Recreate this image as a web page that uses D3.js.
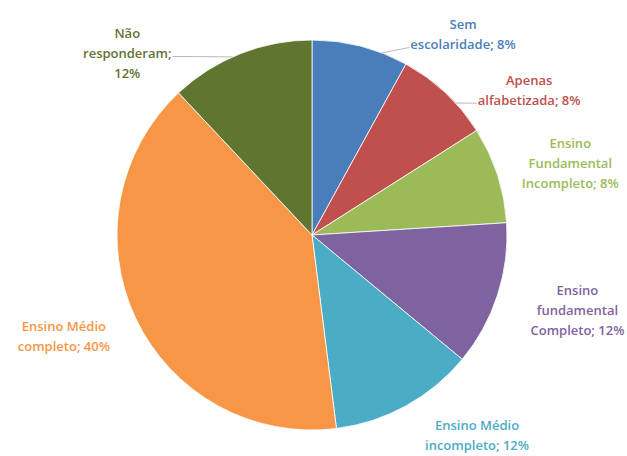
<!DOCTYPE html>
<html>
<head>
<meta charset="utf-8">
<script src="https://cdn.jsdelivr.net/npm/d3@7"></script>
<style>
  html, body { margin: 0; padding: 0; background: #fff; }
  svg { display: block; }
  .label { font-family: "Open Sans", "DejaVu Sans", sans-serif; font-size: 13px; font-weight: 600; }
</style>
</head>
<body>
<div id="chart"></div>
<script>
// Escolaridade - share of respondents (%)
const categories = [
    "Sem escolaridade",
    "Apenas alfabetizada",
    "Ensino Fundamental incompleto",
    "Ensino fundamental Completo",
    "Ensino Médio incompleto",
    "Ensino Médio completo",
    "Não responderam"
];
const values = [8, 8, 8, 12, 12, 40, 12];
// label text as printed on the chart, one entry per line
const labelLines = [
    ["Sem", "escolaridade; 8%"],
    ["Apenas", "alfabetizada; 8%"],
    ["Ensino", "Fundamental", "Incompleto; 8%"],
    ["Ensino", "fundamental", "Completo; 12%"],
    ["Ensino Médio", "incompleto; 12%"],
    ["Ensino Médio", "completo; 40%"],
    ["Não", "responderam;", "12%"]
];
const colors = ["#4a7ebb", "#c0504d", "#9bbb59", "#7f63a1", "#4bacc6", "#f79646", "#5f7530"];

// label placement (angle in degrees from 12 o'clock, distance from centre)
const labelAngle = [37, 56.3, 74.5, 105.9, 140.6, 247.8, 314.5];
const labelRadius = [251, 261, 268, 276, 260, 268, 259];
const leaderAngle = { 0: 21, 1: 47.4, 6: 336 };

function drawPie() {
    const width = 627, height = 456;
    const cx = 312, cy = 235;
    const radius = 195;
    const lineH = 20;

    const svg = d3.select("#chart")
        .append("svg")
        .attr("width", width)
        .attr("height", height);

    const g = svg.append("g")
        .attr("transform", `translate(${cx},${cy})`);

    const data = categories.map((c, i) => ({ name: c, value: values[i], i: i }));

    const pie = d3.pie()
        .value(d => d.value)
        .sort(null);

    const arc = d3.arc()
        .innerRadius(0)
        .outerRadius(radius);

    const arcs = pie(data);

    g.selectAll("path.slice")
        .data(arcs)
        .join("path")
        .attr("class", "slice")
        .attr("d", arc)
        .attr("fill", d => colors[d.data.i])
        .attr("stroke", "#fff")
        .attr("stroke-width", 0.8);

    // labels
    const labels = g.selectAll("text.label")
        .data(arcs)
        .join("text")
        .attr("class", "label")
        .attr("text-anchor", "middle")
        .attr("fill", d => colors[d.data.i])
        .each(function(d) {
            const i = d.data.i;
            const [x, y] = d3.pointRadial(labelAngle[i] * Math.PI / 180, labelRadius[i]);
            const lines = labelLines[i];
            const top = y - (lines.length - 1) * lineH / 2;
            d3.select(this).selectAll("tspan")
                .data(lines)
                .join("tspan")
                .attr("x", x)
                .attr("y", (l, k) => top + k * lineH)
                .attr("dy", "0.35em")
                .text(l => l);
        });

    // leader lines for the labels that sit away from their slice
    labels.each(function(d) {
        const i = d.data.i;
        if (leaderAngle[i] === undefined) return;
        const box = this.getBBox();
        const lines = labelLines[i];
        const [x, y] = d3.pointRadial(labelAngle[i] * Math.PI / 180, labelRadius[i]);
        const top = y - (lines.length - 1) * lineH / 2;
        const ly = top + Math.floor(lines.length / 2) * lineH + 3;
        const [ex, ey] = d3.pointRadial(leaderAngle[i] * Math.PI / 180, radius);
        const lx = ex > x ? box.x + box.width + 1 : box.x - 1;
        g.append("line")
            .attr("x1", ex)
            .attr("y1", ey)
            .attr("x2", lx)
            .attr("y2", ly)
            .attr("stroke", "#a6a6a6")
            .attr("stroke-width", 0.8);
    });
}

drawPie();
</script>
</body>
</html>
